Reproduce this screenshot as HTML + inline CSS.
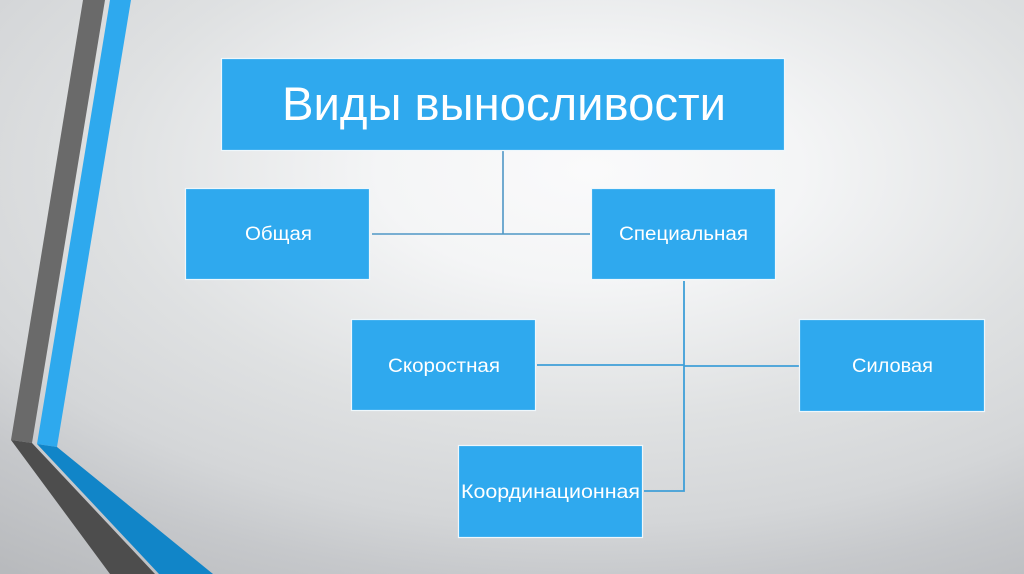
<!DOCTYPE html>
<html lang="ru">
<head>
<meta charset="utf-8">
<title>Виды выносливости</title>
<style>
html,body{margin:0;padding:0;width:1024px;height:574px;overflow:hidden;background:#d5d7d9}
svg{display:block}
text{font-family:"Liberation Sans","DejaVu Sans",sans-serif;fill:#fff}
</style>
</head>
<body>
<svg width="1024" height="574" viewBox="0 0 1024 574" xmlns="http://www.w3.org/2000/svg">
<defs>
<radialGradient id="bg" gradientUnits="userSpaceOnUse" cx="590" cy="170" r="960" gradientTransform="translate(590 170) scale(1 .525) translate(-590 -170)">
<stop offset="0" stop-color="#fafafb"/>
<stop offset=".22" stop-color="#f4f5f6"/>
<stop offset=".5" stop-color="#dfe1e2"/>
<stop offset=".7" stop-color="#d4d6d8"/>
<stop offset=".82" stop-color="#c6c8cb"/>
<stop offset="1" stop-color="#b8babd"/>
</radialGradient>
</defs>
<rect width="1024" height="574" fill="url(#bg)"/>

<polygon points="83,0 105,0 32,443 11,440" fill="#6a6a6a"/>
<polygon points="110,0 131,0 57,447 37,444" fill="#2ea9ee"/>
<polygon points="11,440 32,443 155,574 110,574" fill="#4d4d4d"/>
<polygon points="37,444 57,447 213,574 159,574" fill="#1185c8"/>

<g fill="none" stroke="#4f97c6" stroke-width="1.6">
<path d="M503 151V234"/>
<path d="M372 234H590"/>
</g>
<g fill="none" stroke="#3f9fd8" stroke-width="1.8">
<path d="M684 281V491H644"/>
<path d="M537 365H684"/>
<path d="M684 366H799"/>
</g>

<g fill="#2fa9ee" stroke="#eef7fc" stroke-width="1.2">
<rect x="221.500" y="58.500" width="563" height="92"/>
<rect x="185.500" y="188.500" width="184" height="91"/>
<rect x="591.500" y="188.500" width="184" height="91"/>
<rect x="351.500" y="319.500" width="184" height="91"/>
<rect x="799.500" y="319.500" width="185" height="92"/>
<rect x="458.500" y="445.500" width="184" height="92"/>
</g>

<text x="282" y="120" font-size="47" textLength="444" lengthAdjust="spacingAndGlyphs">Виды выносливости</text>
<text x="245" y="240" font-size="19" textLength="67" lengthAdjust="spacingAndGlyphs">Общая</text>
<text x="619" y="240" font-size="19" textLength="129" lengthAdjust="spacingAndGlyphs">Специальная</text>
<text x="388" y="372" font-size="19" textLength="112" lengthAdjust="spacingAndGlyphs">Скоростная</text>
<text x="852" y="372" font-size="19" textLength="81" lengthAdjust="spacingAndGlyphs">Силовая</text>
<text x="461" y="498" font-size="19" textLength="179" lengthAdjust="spacingAndGlyphs">Координационная</text>
</svg>
</body>
</html>
